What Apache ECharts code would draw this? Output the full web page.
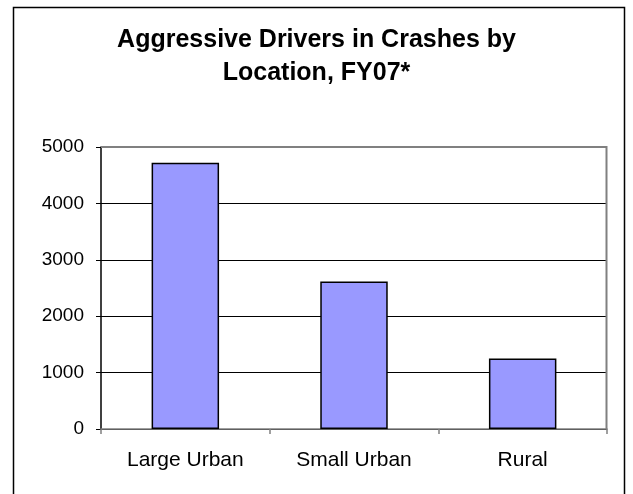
<!DOCTYPE html>
<html>
<head>
<meta charset="utf-8">
<script src="https://cdn.jsdelivr.net/npm/echarts@6/dist/echarts.min.js"></script>
<style>
  html, body { margin: 0; padding: 0; background: #fff; }
  #main { width: 633px; height: 494px; }
</style>
</head>
<body>
<div id="main"></div>
<script>
// locations and number of aggressive drivers
var categories = ['Large Urban', 'Small Urban', 'Rural']
var drivers = [4720, 2615, 1250]
var yTicks = [0, 1000, 2000, 3000, 4000, 5000]

var chart = echarts.init(document.getElementById('main'))

var font = '"Liberation Sans", Arial, sans-serif'

var option = {
  animation: false,
  backgroundColor: '#fff',
  title: {
    text: 'Aggressive Drivers in Crashes by\nLocation, FY07*',
    left: 'center',
    top: 19,
    textStyle: {
      fontFamily: font,
      fontSize: 25,
      fontWeight: 'bold',
      color: '#000',
      lineHeight: 33
    }
  },
  graphic: [{
    type: 'rect',
    shape: { x: 13.5, y: 7.5, width: 611, height: 500 },
    style: { fill: 'none', stroke: '#000', lineWidth: 1.5 },
    silent: true
  }, {
    // plot area border (top / right in gray)
    type: 'polyline',
    shape: { points: [[101, 147], [606.5, 147], [606.5, 429]] },
    style: { stroke: '#808080', lineWidth: 2, fill: 'none' },
    silent: true,
    z: 10
  }],
  grid: {
    left: 101,
    top: 147,
    width: 506,
    height: 282,
    containLabel: false
  },
  xAxis: {
    type: 'category',
    data: categories,
    axisLine: { lineStyle: { color: '#808080', width: 1.5 } },
    axisTick: { show: true, alignWithLabel: false, length: 5, lineStyle: { color: '#808080', width: 1.5 } },
    axisLabel: {
      fontFamily: font,
      fontSize: 21,
      color: '#000',
      margin: 21
    },
    splitLine: { show: false }
  },
  yAxis: {
    type: 'value',
    min: yTicks[0],
    max: yTicks[yTicks.length - 1],
    interval: 1000,
    axisLine: { show: true, lineStyle: { color: '#000', width: 1.5 } },
    axisTick: { show: true, length: 5, inside: false, lineStyle: { color: '#000' } },
    axisLabel: {
      fontFamily: font,
      fontSize: 19,
      color: '#000',
      margin: 17,
      formatter: function (v) { return String(v) }
    },
    splitLine: { show: true, lineStyle: { color: '#000', width: 1 } }
  },
  series: [{
    type: 'bar',
    data: drivers,
    barWidth: '40%',
    itemStyle: {
      color: '#9999FF',
      borderColor: '#000',
      borderWidth: 1.5
    }
  }]
}

chart.setOption(option)
</script>
</body>
</html>
